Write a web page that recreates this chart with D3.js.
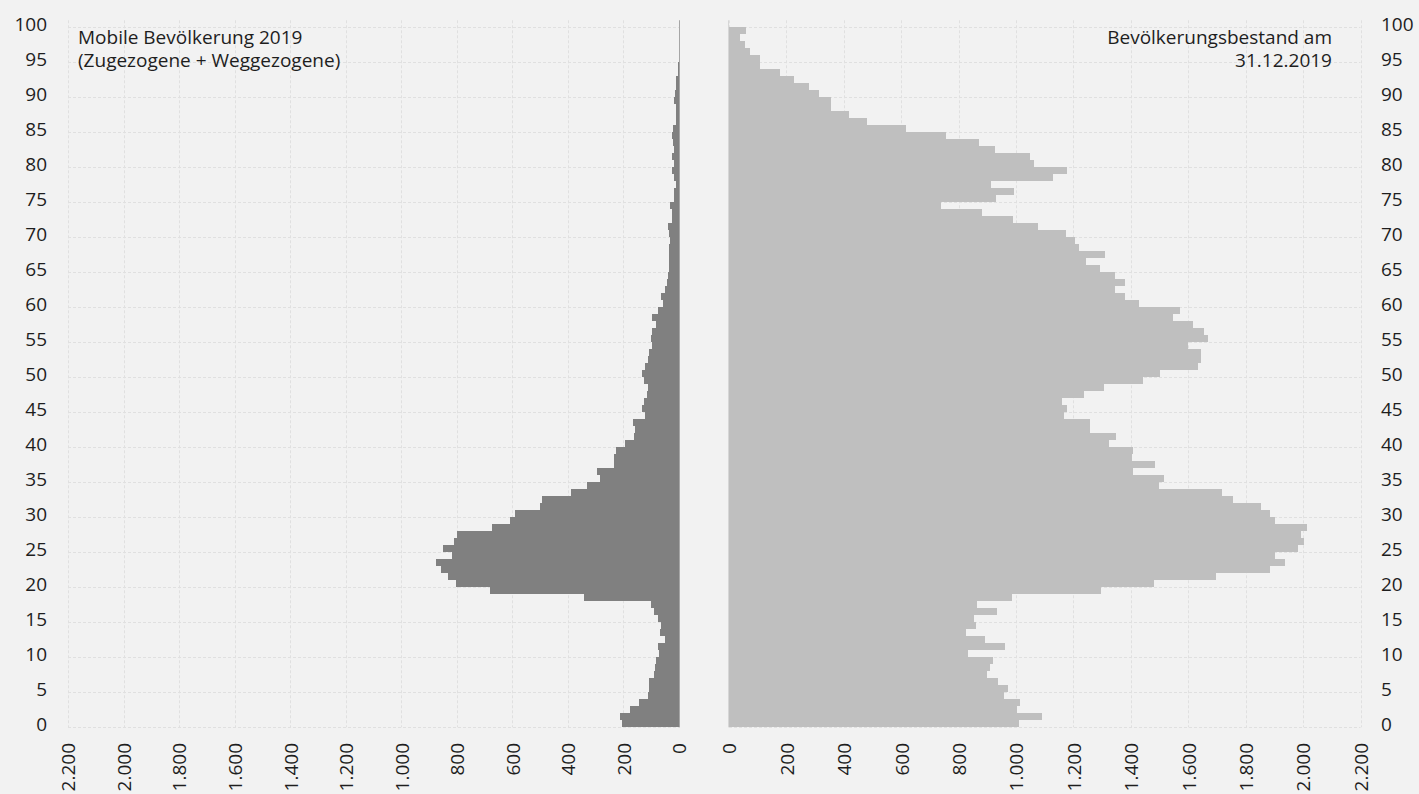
<!DOCTYPE html>
<html><head><meta charset="utf-8">
<script src="https://cdn.jsdelivr.net/npm/d3@7"></script>
<style>
body{margin:0;background:#f2f2f2}
svg{display:block}
text{font-family:"Open Sans",sans-serif;fill:#1e1e1e}
</style>
</head><body>
<svg id="c" width="1419" height="794"></svg>
<script>
// Age categories 0..100
const ages = d3.range(0, 101);
// Mobile Bevölkerung 2019 (Zugezogene + Weggezogene), by age 0..100
const mobile = [205,214,178,145,110,108,108,90,88,83,
  72,77,50,70,65,77,89,101,341,680,
  802,833,858,876,816,851,811,800,673,608,
  590,502,492,390,332,286,295,233,233,226,
  195,163,160,166,122,135,127,115,110,127,
  135,121,110,108,96,101,96,82,98,74,
  58,64,49,43,41,36,36,37,36,31,
  36,38,26,24,31,19,17,11,17,24,
  19,26,19,22,24,22,12,12,12,17,
  13,11,11,4,2,0,0,0,0,0,0];
// Bevölkerungsbestand am 31.12.2019, by age 0..100
const bestand = [1012,1089,1004,1013,957,972,937,899,909,921,
  833,961,892,827,860,852,935,865,985,1297,
  1479,1695,1883,1937,1903,1984,2003,1992,2013,1901,
  1883,1855,1756,1716,1499,1515,1407,1485,1403,1408,
  1323,1349,1259,1259,1168,1177,1161,1237,1308,1441,
  1500,1635,1645,1645,1599,1667,1656,1617,1548,1572,
  1429,1380,1343,1381,1344,1293,1243,1309,1219,1204,
  1173,1076,991,881,737,929,992,912,1128,1177,
  1064,1049,928,872,757,616,480,418,357,357,
  314,277,227,179,109,109,72,57,40,58,0];
const xTicks = d3.range(0, 2201, 200);
const yTicks = d3.range(0, 101, 5);
const titleLeft = ["Mobile Bevölkerung 2019", "(Zugezogene + Weggezogene)"];
const titleRight = ["Bevölkerungsbestand am", "31.12.2019"];

const svg = d3.select("#c");
svg.append("rect").attr("width", 1419).attr("height", 794).attr("fill", "#f2f2f2");

const yBand = d3.scaleBand().domain(ages).range([727.3, 20.3]).padding(0);
const bw = yBand.bandwidth();
const xL = d3.scaleLinear().domain([0, 2200]).range([679, 68]);
const xR = d3.scaleLinear().domain([0, 2200]).range([729, 1360.5]);
const fmt = d => d3.format(",")(d).replace(/,/g, ".");
const gridCol = "#e0e0e0";
const plotTop = 20.3, plotBottom = 727.3;

function grid(x) {
  const g = svg.append("g");
  const [x0, x1] = [x(0), x(2200)];
  g.selectAll("line.v").data(xTicks).join("line")
    .attr("x1", d => Math.round(x(d)) + 0.5).attr("x2", d => Math.round(x(d)) + 0.5)
    .attr("y1", plotTop).attr("y2", plotBottom)
    .attr("stroke", gridCol).attr("stroke-dasharray", "3,2");
  g.selectAll("line.h").data(yTicks).join("line")
    .attr("x1", Math.min(x0, x1)).attr("x2", Math.max(x0, x1))
    .attr("y1", d => Math.round(yBand(d) + bw) + 0.5).attr("y2", d => Math.round(yBand(d) + bw) + 0.5)
    .attr("stroke", gridCol).attr("stroke-dasharray", "3,2");
}
grid(xL);
grid(xR);

// Bars
svg.append("g").attr("shape-rendering", "crispEdges")
  .selectAll("rect").data(ages).join("rect")
  .attr("x", a => xL(mobile[a])).attr("width", a => xL(0) - xL(mobile[a]))
  .attr("y", a => yBand(a)).attr("height", bw)
  .attr("fill", "#808080");
svg.append("g").attr("shape-rendering", "crispEdges")
  .selectAll("rect").data(ages).join("rect")
  .attr("x", xR(0)).attr("width", a => xR(bestand[a]) - xR(0))
  .attr("y", a => yBand(a)).attr("height", bw)
  .attr("fill", "#bfbfbf");

// axis lines
svg.append("line").attr("x1", 679.5).attr("x2", 679.5).attr("y1", plotTop).attr("y2", plotBottom)
  .attr("stroke", "#a6a6a6");
svg.append("line").attr("x1", 728.5).attr("x2", 728.5).attr("y1", plotTop).attr("y2", plotBottom)
  .attr("stroke", "#d6d6d6");

// X axes (rotated labels)
function xAxis(x) {
  const g = svg.append("g").attr("transform", "translate(0,743)")
    .call(d3.axisBottom(x).tickValues(xTicks).tickFormat(fmt).tickSize(0));
  g.select(".domain").remove();
  g.selectAll("text")
    .attr("transform", "rotate(-90)").attr("x", 0).attr("y", 0)
    .attr("dy", "0.36em").attr("text-anchor", "end")
    .style("font-family", '"Open Sans",sans-serif').style("font-size", "19px").attr("fill", "#1e1e1e");
}
xAxis(xL);
xAxis(xR);

// Y axes
const yl = svg.append("g").attr("transform", "translate(47,1.5)")
  .call(d3.axisLeft(yBand).tickValues(yTicks).tickSize(0).tickPadding(0));
const yr = svg.append("g").attr("transform", "translate(1381,1.5)")
  .call(d3.axisRight(yBand).tickValues(yTicks).tickSize(0).tickPadding(0));
[yl, yr].forEach(g => {
  g.select(".domain").remove();
  g.selectAll("text").style("font-family", '"Open Sans",sans-serif')
    .style("font-size", "19px").attr("fill", "#1e1e1e");
});

// Titles
svg.append("g").selectAll("text").data(titleLeft).join("text")
  .attr("x", 78).attr("y", (d, i) => 43.5 + i * 23.5)
  .style("font-size", "19px").text(d => d);
svg.append("g").selectAll("text").data(titleRight).join("text")
  .attr("x", 1332).attr("y", (d, i) => 43.5 + i * 23.5).attr("text-anchor", "end")
  .style("font-size", "19px").text(d => d);
</script>
</body></html>
